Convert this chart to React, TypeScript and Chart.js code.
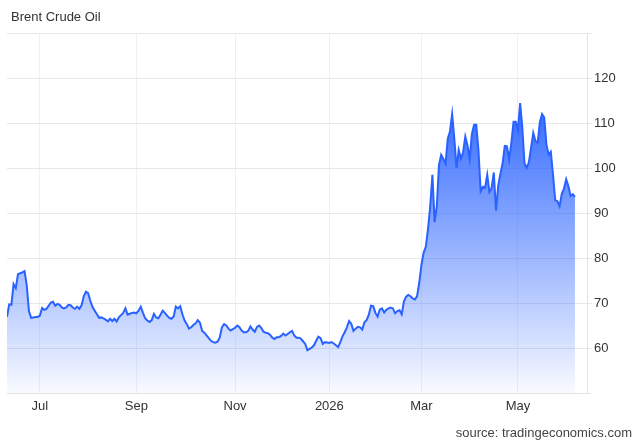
import { useEffect, useRef } from 'react';
import { Chart, registerables } from 'chart.js';

Chart.register(...registerables);

const chartTitle = 'Brent Crude Oil';
const sourceText = 'source: tradingeconomics.com';

// first trading day of the series (year, monthIndex, day)
const startDay = [2025, 5, 10];

const prices = [
  66.9, 69.7, 69.6, 74.2, 73.3, 76.4, 76.6, 76.8, 77.1, 74.0,
  68.2, 66.7, 66.8, 66.9, 66.9, 67.2, 68.9, 68.5, 68.7, 69.4,
  70.1, 70.3, 69.4, 69.8, 69.6, 69.0, 68.8, 69.0, 69.6, 69.5,
  69.0, 68.7, 69.2, 68.7, 69.5, 71.5, 72.5, 72.2, 70.5, 69.1,
  68.3, 67.5, 66.7, 66.8, 66.6, 66.3, 65.9, 66.5, 66.0, 66.5,
  65.9, 66.8, 67.3, 67.8, 68.8, 67.4, 67.6, 67.8, 67.9, 67.7,
  68.3, 69.2, 67.8, 66.6, 66.1, 65.8, 66.2, 67.6, 66.8, 66.6,
  67.4, 68.3, 67.8, 67.2, 66.7, 66.5, 67.0, 69.2, 68.8, 69.3,
  67.5, 66.1, 65.3, 64.3, 64.6, 65.1, 65.5, 66.2, 65.6, 63.8,
  63.4, 62.8, 62.2, 61.6, 61.3, 61.2, 61.4, 62.3, 64.6, 65.3,
  65.0, 64.3, 63.9, 64.2, 64.5, 65.0, 64.6, 63.9, 63.5, 63.5,
  63.8, 64.8, 64.1, 63.6, 64.7, 65.0, 64.4, 63.6, 63.4, 63.3,
  62.9, 62.3, 62.0, 62.4, 62.4, 62.7, 63.2, 62.8, 63.1, 63.5,
  63.8, 62.8, 62.3, 62.3, 62.1, 61.5, 60.9, 59.5, 59.8, 60.1,
  60.6, 61.6, 62.5, 62.2, 60.9, 61.3, 61.2, 61.1, 61.3, 61.0,
  60.6, 60.2, 61.3, 62.6, 63.5, 64.6, 66.0, 65.4, 63.8, 64.3,
  64.7, 64.6, 64.1, 65.7, 66.2, 67.4, 69.4, 69.3, 67.8, 67.0,
  68.5, 68.8, 67.9, 68.5, 68.8, 69.0, 68.8, 67.7, 68.2, 68.4,
  67.5, 70.3, 71.4, 71.8, 71.5, 71.0, 70.8, 71.5, 74.5, 78.5,
  81.2, 82.5, 86.5, 91.5, 98.5, 88.0, 91.5, 100.7, 102.9, 102.0,
  101.0, 106.5, 108.1, 112.0, 106.5, 100.0, 104.0, 102.1, 103.5, 107.0,
  105.0, 102.0, 107.5, 109.6, 109.6, 104.0, 94.8, 95.8, 95.6, 98.5,
  94.7, 95.5, 99.0, 90.5, 96.0, 98.7, 101.0, 104.9, 104.8, 101.9,
  105.5, 110.3, 110.3, 108.5, 114.4, 109.0, 101.0, 100.0, 101.3, 104.5,
  107.8, 106.0, 105.6, 110.2, 112.0, 111.2, 105.2, 103.0, 103.6, 98.5,
  92.9, 92.6, 91.5, 94.2, 95.4, 97.5, 96.0, 93.8, 94.2, 93.6,
];

const tickLabels = ['Jul', 'Sep', 'Nov', '2026', 'Mar', 'May'];
const tickMonthKeys = ['2025-07', '2025-09', '2025-11', '2026-01', '2026-03', '2026-05'];

const yMin = 50;
const yMax = 130;
const yStep = 10;
const hiddenYLabels = [50, 130];

// trading-day categories (weekdays) matching the price list
function buildDates(count: number): string[] {
  const out: string[] = [];
  const d = new Date(startDay[0], startDay[1], startDay[2]);
  while (out.length < count) {
    const wd = d.getDay();
    if (wd !== 0 && wd !== 6) {
      const m = String(d.getMonth() + 1).padStart(2, '0');
      const day = String(d.getDate()).padStart(2, '0');
      out.push(`${d.getFullYear()}-${m}-${day}`);
    }
    d.setDate(d.getDate() + 1);
  }
  return out;
}

const FONT = "'Liberation Sans', Arial, Helvetica, sans-serif";

export default function App() {
  const canvasRef = useRef<HTMLCanvasElement | null>(null);

  useEffect(() => {
    const canvas = canvasRef.current;
    if (!canvas) return;
    const dates = buildDates(prices.length);
    const tickIdx = tickMonthKeys.map((k) => dates.findIndex((d) => d.startsWith(k)));
    const maxPrice = Math.max(...prices);

    const chart = new Chart(canvas, {
      type: 'line',
      data: {
        datasets: [
          {
            data: prices.map((v, i) => ({ x: i, y: v })),
            borderColor: '#2962ff',
            borderWidth: 2,
            pointRadius: 0,
            tension: 0,
            fill: 'start',
            backgroundColor: (ctx: any) => {
              const ch = ctx.chart;
              const area = ch.chartArea;
              if (!area) return 'rgba(41,98,255,0.3)';
              const top = ch.scales.y.getPixelForValue(maxPrice);
              const g = ch.ctx.createLinearGradient(0, top, 0, area.bottom);
              g.addColorStop(0, 'rgba(41,98,255,0.95)');
              g.addColorStop(1, 'rgba(41,98,255,0.03)');
              return g;
            },
          },
        ],
      },
      options: {
        animation: false,
        responsive: false,
        devicePixelRatio: 1,
        layout: { padding: { left: 7, top: 33, right: 0, bottom: 0 } },
        plugins: {
          legend: { display: false },
          tooltip: { enabled: false },
          title: { display: false },
        },
        scales: {
          x: {
            type: 'linear',
            min: 0,
            max: prices.length - 1 + 5.5,
            afterBuildTicks: (scale: any) => {
              scale.ticks = tickIdx.map((v) => ({ value: v }));
            },
            afterFit: (scale: any) => {
              scale.height = 51;
            },
            ticks: {
              autoSkip: false,
              maxRotation: 0,
              padding: 6,
              color: '#333333',
              font: { family: FONT, size: 13 },
              callback: (_v: any, index: number) => tickLabels[index],
            },
            grid: { color: '#edf1f7', drawTicks: false, lineWidth: 1 },
            border: { display: true, color: '#e2e2e2' },
          },
          y: {
            position: 'right',
            min: yMin,
            max: yMax,
            afterFit: (scale: any) => {
              scale.width = 53;
            },
            ticks: {
              stepSize: yStep,
              padding: 2,
              color: '#333333',
              font: { family: FONT, size: 13 },
              callback: (v: any) => (hiddenYLabels.includes(Number(v)) ? '' : String(v)),
            },
            grid: { color: '#e8e8e8', tickLength: 5, lineWidth: 1 },
            border: { display: true, color: '#e2e2e2' },
          },
        },
      },
    });

    return () => {
      chart.destroy();
    };
  }, []);

  return (
    <div
      style={{
        position: 'fixed',
        left: 0,
        top: 0,
        width: 640,
        height: 444,
        background: '#ffffff',
        overflow: 'hidden',
      }}
    >
      <canvas ref={canvasRef} width={640} height={444} style={{ display: 'block', width: 640, height: 444 }} />
      <div
        style={{
          position: 'absolute',
          left: 11,
          top: 9,
          fontFamily: FONT,
          fontSize: 13,
          lineHeight: '15px',
          color: '#333333',
          whiteSpace: 'nowrap',
        }}
      >
        {chartTitle}
      </div>
      <div
        style={{
          position: 'absolute',
          right: 8,
          top: 425,
          fontFamily: FONT,
          fontSize: 13,
          lineHeight: '15px',
          color: '#444444',
          whiteSpace: 'nowrap',
        }}
      >
        {sourceText}
      </div>
    </div>
  );
}
